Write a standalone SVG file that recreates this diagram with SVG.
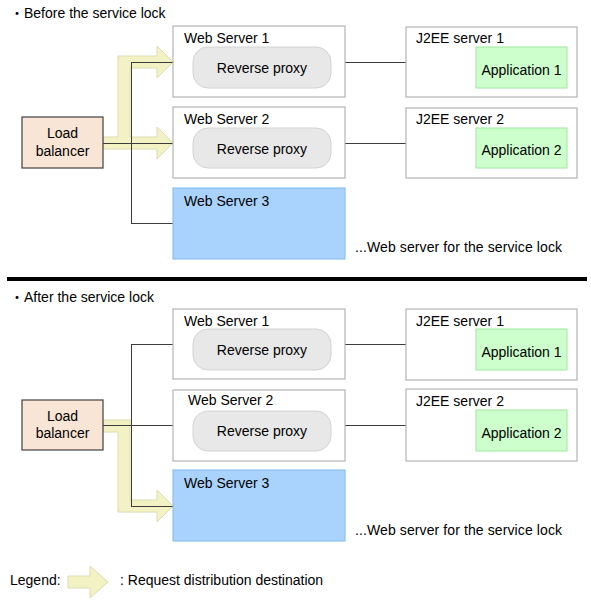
<svg xmlns="http://www.w3.org/2000/svg" width="591" height="600" viewBox="0 0 591 600">
<style>
text{font-family:"Liberation Sans",Arial,"Noto Sans CJK JP",sans-serif;font-size:14px;fill:#000}
.box{fill:#fff;stroke:#b4b4b4;stroke-width:1.2}
.pill{fill:#e8e8e8;stroke:#d2d2d2;stroke-width:1}
.app{fill:#ccffcc;stroke:#9ee89e;stroke-width:1}
.lb{fill:#f9e5d5;stroke:#404040;stroke-width:1.2}
.ws3{fill:#a9d3fc;stroke:#8cc0f0;stroke-width:1.2}
.arrow{fill:#f2f2c4;stroke:#dcdcb0;stroke-width:1}
.ln{stroke:#3c3c3c;stroke-width:1;fill:none}
.c{text-anchor:middle}
</style>
<rect width="591" height="600" fill="#fff"/>
<text x="10" y="18">・Before the service lock</text>
<text x="10" y="302">・After the service lock</text>
<rect x="7" y="277" width="580" height="4" fill="#000"/>

<g id="arrows">
<path class="arrow" d="M103,137 L118,137 L118,56 L157,56 L157,46 L173,62 L157,78 L157,68 L130,68 L130,137 L157,137 L157,127 L173,143 L157,159 L157,149 L103,149 Z"/>
<path class="arrow" d="M103,420 L130,420 L130,500 L157,500 L157,490 L173,506 L157,522 L157,512 L118,512 L118,432 L103,432 Z"/>
<path class="arrow" d="M68,576 L90,576 L90,566 L108,582 L90,598 L90,588 L68,588 Z"/>
</g>

<g id="connectors">
<path class="ln" d="M103,143.5 H173 M131.5,62 V224 M131,62.5 H173 M131,223.5 H173 M345,62.5 H406 M345,143.5 H406"/>
<path class="ln" d="M103,425.5 H173 M131.5,344 V507 M131,344.5 H173 M131,506.5 H173 M345,344.5 H406 M345,425.5 H406"/>
</g>

<g id="lb1"><rect class="lb" x="22" y="117" width="81" height="51"/><text class="c" x="62.5" y="138">Load</text><text class="c" x="62.5" y="156">balancer</text></g>
<g id="ws1a"><rect class="box" x="173" y="26" width="172" height="71"/><text x="184" y="43">Web Server 1</text><rect class="pill" x="193" y="47" width="138" height="41" rx="15"/><text class="c" x="262" y="73">Reverse proxy</text></g>
<g id="ws2a"><rect class="box" x="173" y="107" width="172" height="71"/><text x="184" y="124">Web Server 2</text><rect class="pill" x="193" y="128" width="138" height="40" rx="15"/><text class="c" x="262" y="154">Reverse proxy</text></g>
<g id="ws3a"><rect class="ws3" x="173" y="188" width="172" height="71"/><text x="184" y="206">Web Server 3</text></g>
<g id="j1a"><rect class="box" x="406" y="27" width="171" height="70"/><text x="416" y="43">J2EE server 1</text><rect class="app" x="476" y="47" width="91" height="41"/><text class="c" x="521.5" y="75">Application 1</text></g>
<g id="j2a"><rect class="box" x="406" y="108" width="171" height="70"/><text x="416" y="124">J2EE server 2</text><rect class="app" x="476" y="128" width="91" height="40"/><text class="c" x="521.5" y="155">Application 2</text></g>
<text x="355" y="252" textLength="207">...Web server for the service lock</text>

<g id="lb2"><rect class="lb" x="22" y="400" width="81" height="50"/><text class="c" x="62.5" y="421">Load</text><text class="c" x="62.5" y="438">balancer</text></g>
<g id="ws1b"><rect class="box" x="173" y="309" width="172" height="70"/><text x="184" y="326">Web Server 1</text><rect class="pill" x="193" y="329" width="138" height="41" rx="15"/><text class="c" x="262" y="355">Reverse proxy</text></g>
<g id="ws2b"><rect class="box" x="173" y="390" width="172" height="71"/><text x="188" y="405">Web Server 2</text><rect class="pill" x="193" y="411" width="138" height="40" rx="15"/><text class="c" x="262" y="436">Reverse proxy</text></g>
<g id="ws3b"><rect class="ws3" x="173" y="470" width="172" height="71"/><text x="184" y="488">Web Server 3</text></g>
<g id="j1b"><rect class="box" x="406" y="309" width="171" height="71"/><text x="416" y="326">J2EE server 1</text><rect class="app" x="476" y="329" width="91" height="41"/><text class="c" x="521.5" y="357">Application 1</text></g>
<g id="j2b"><rect class="box" x="406" y="389" width="171" height="72"/><text x="416" y="406">J2EE server 2</text><rect class="app" x="476" y="410" width="91" height="41"/><text class="c" x="521.5" y="438">Application 2</text></g>
<text x="355" y="535" textLength="207">...Web server for the service lock</text>

<g id="legend"><text x="10" y="585">Legend:</text><text x="120" y="585">: Request distribution destination</text></g>
</svg>
